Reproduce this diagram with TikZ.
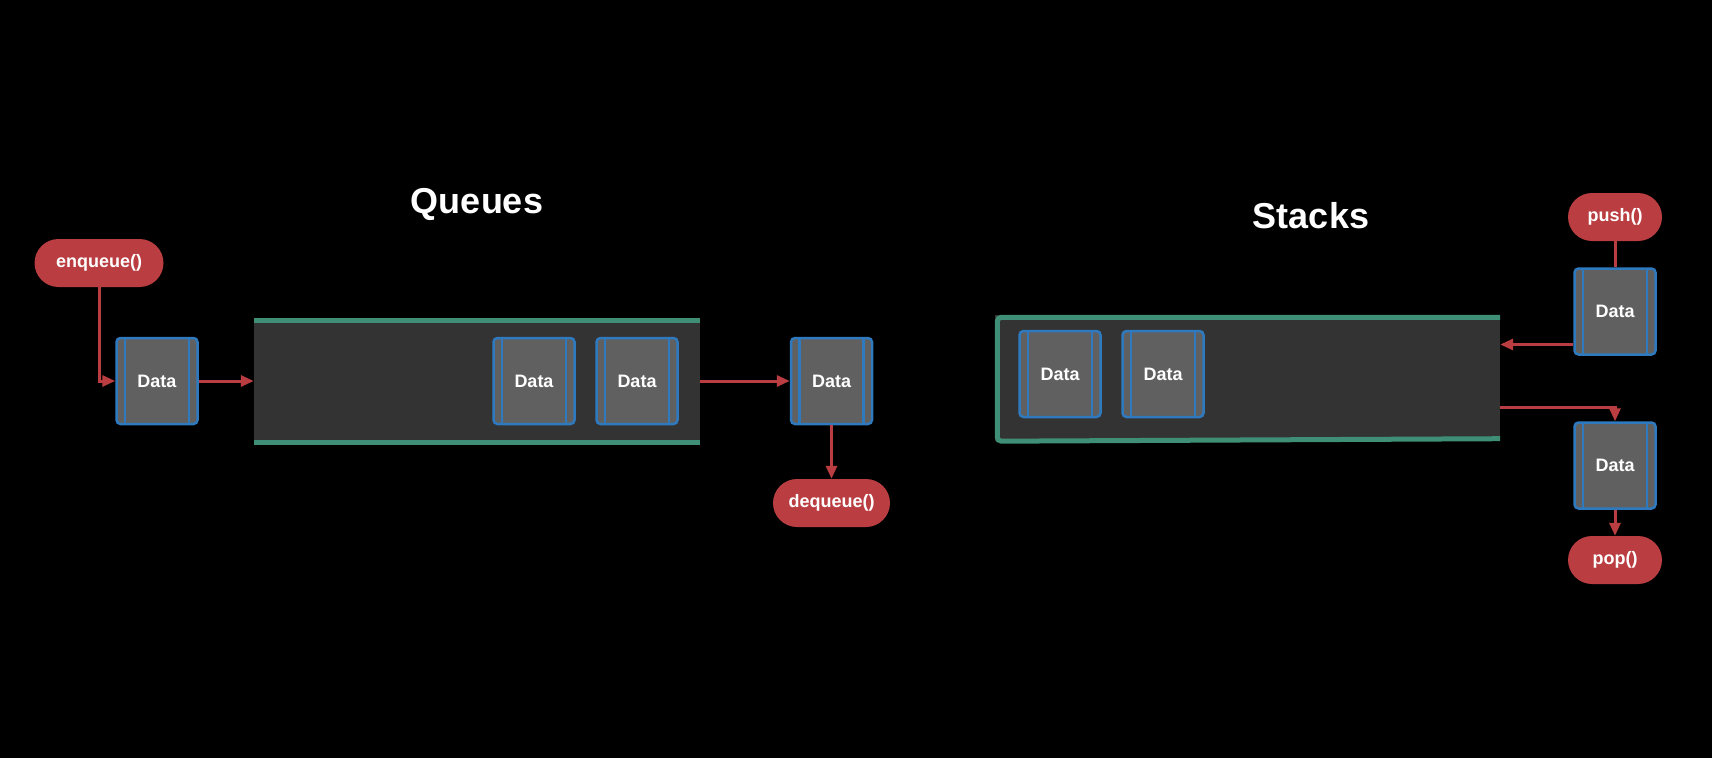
\documentclass[tikz,border=0pt]{standalone}
\usepackage{fontspec}
\setmainfont{Liberation Sans}
\usetikzlibrary{arrows.meta}
\definecolor{bred}{HTML}{BA3E41}
\definecolor{boxgray}{HTML}{606060}
\definecolor{boxblue}{HTML}{2F79BE}
\definecolor{qgray}{HTML}{333333}
\definecolor{qgreen}{HTML}{3F8F76}
\tikzset{
  databox/.style={rectangle, minimum width=81pt, minimum height=86pt, rounded corners=4pt,
    fill=boxgray, draw=boxblue, line width=2.5pt, text=white,
    font=\bfseries\fontsize{18}{20}\selectfont,
    path picture={
      \draw[boxblue,line width=2.5pt] ([xshift=8.5pt]path picture bounding box.north west) -- ([xshift=8.5pt]path picture bounding box.south west);
      \draw[boxblue,line width=2.5pt] ([xshift=-8.5pt]path picture bounding box.north east) -- ([xshift=-8.5pt]path picture bounding box.south east);
    }},
  pill/.style={rectangle, minimum height=48pt, rounded corners=24pt, fill=bred, text=white,
    font=\bfseries\fontsize{18}{20}\selectfont, inner sep=0pt},
  title/.style={text=white, font=\bfseries\fontsize{36}{40}\selectfont},
  conn/.style={draw=bred, line width=3pt},
  arr/.style={conn, -{Triangle[length=13pt,width=11pt]}},
}
\begin{document}
\begin{tikzpicture}[x=1pt,y=-1pt]
\fill[black] (0,0) rectangle (1712,758);
\useasboundingbox (0,0) rectangle (1712,758);

% Queues
\node[title] (qt) at (477,204) {Queues};
\node[pill, minimum width=129pt] (enq) at (99,263) {enqueue()};
\node[databox] (d1) at (157,381) {Data};
\node[rectangle, fill=qgray, minimum width=446pt, minimum height=127pt, inner sep=0pt] (queue) at (477,381.5) {};
\fill[qgreen] (queue.north west) rectangle ([yshift=-5pt]queue.north east);
\fill[qgreen] ([yshift=5pt]queue.south west) rectangle (queue.south east);
\node[databox] (q1) at (534,381) {Data};
\node[databox] (q2) at (637,381) {Data};
\node[databox] (dout) at (831.5,381) {Data};
\node[pill, minimum width=117pt] (deq) at (831.5,503) {dequeue()};

\draw[arr] (enq.south) |- (d1.west);
\draw[arr] (d1) -- (queue.west |- d1);
\draw[arr] (queue.east |- dout) -- (dout);
\draw[arr] (dout) -- (deq);

% Stacks
\node[title] (st) at (1311,216) {Stacks};
\node[rectangle, fill=qgray, minimum width=505pt, minimum height=126pt, inner sep=0pt] (stack) at (1247.5,378) {};
\draw[qgreen, line width=5pt, rounded corners=4pt] (stack.north east) ++(0,-2.5pt) -| ([xshift=2.5pt]stack.south west) -- ([yshift=2.5pt]stack.south east);
\node[databox] (s1) at (1060,374) {Data};
\node[databox] (s2) at (1163,374) {Data};
\node[pill, minimum width=94pt] (push) at (1615,217) {push()};
\node[databox] (ptop) at (1615,311.5) {Data};
\node[databox] (pbot) at (1615,465.5) {Data};
\node[pill, minimum width=94pt] (pop) at (1615,560) {pop()};

\draw[conn] (push) -- (ptop);
\draw[arr] (ptop.west |- 0,344.5) -- (stack.east |- 0,344.5);
\draw[arr] (stack.east |- 0,407) -| (pbot.north);
\draw[arr] (pbot) -- (pop);
\end{tikzpicture}
\end{document}
